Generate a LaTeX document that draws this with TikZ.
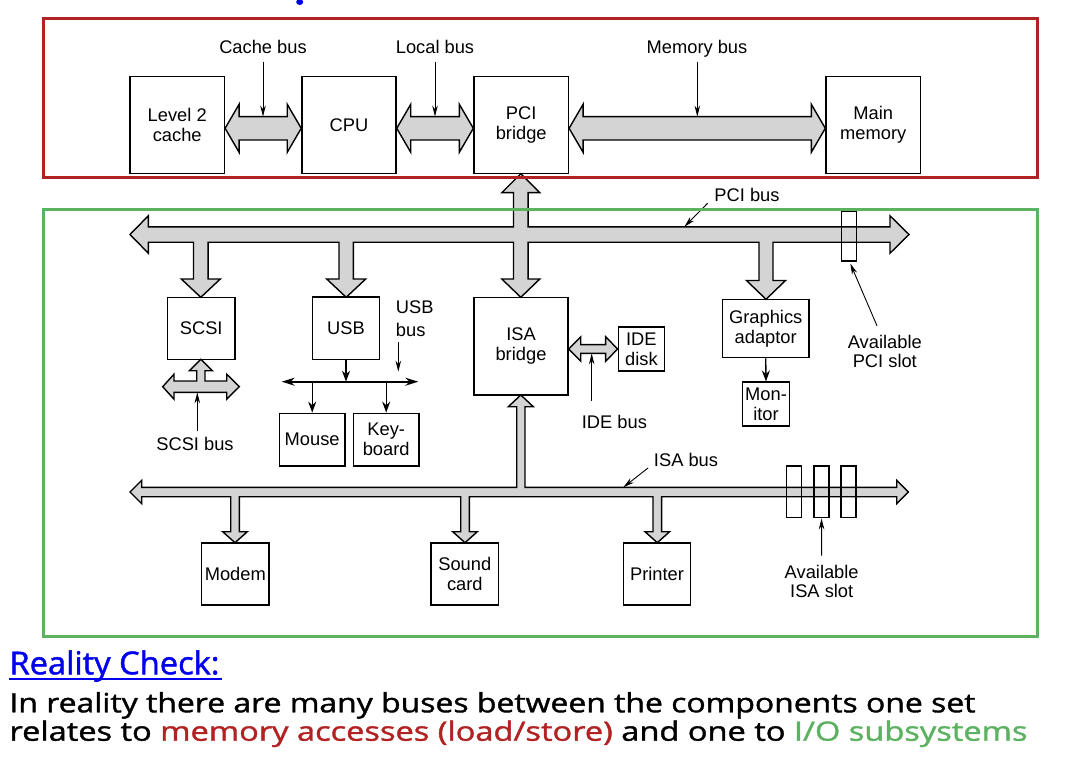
\documentclass[tikz,border=0pt]{standalone}
\usepackage{fontspec}
\setmainfont{Liberation Sans}
\newfontfamily\notefont[FakeBold=1.3]{Open Sans}
\usetikzlibrary{arrows.meta,calc}

\definecolor{framered}{RGB}{178,34,34}
\definecolor{framegreen}{RGB}{92,178,96}
\definecolor{busgray}{RGB}{212,212,212}
\definecolor{noteblue}{RGB}{0,0,240}

\newcommand\diagfont{\fontsize{18.3}{20}\selectfont}

% horizontal double-headed bus between two boxes:
% #1 left box, #2 right box, #3 centre y, #4 shaft half width, #5 head half width, #6 head length
\newcommand\hbus[6]{%
  \filldraw[bus] let \p1=(#1.east), \p2=(#2.west) in
    (\x1,-#3pt) -- ({\x1+#6pt},{-#3pt+#5pt}) -- ({\x1+#6pt},{-#3pt+#4pt})
    -- ({\x2-#6pt},{-#3pt+#4pt}) -- ({\x2-#6pt},{-#3pt+#5pt}) -- (\x2,-#3pt)
    -- ({\x2-#6pt},{-#3pt-#5pt}) -- ({\x2-#6pt},{-#3pt-#4pt})
    -- ({\x1+#6pt},{-#3pt-#4pt}) -- ({\x1+#6pt},{-#3pt-#5pt}) -- cycle;}

\begin{document}
\begin{tikzpicture}[x=1pt,y=-1pt,
  unit/.style={draw, line width=1.5pt, inner sep=0pt, align=center, font=\diagfont},
  lbl/.style={inner sep=0pt, align=center, font=\diagfont},
  bus/.style={fill=busgray, draw=black, line width=1.4pt, line join=miter},
  slot/.style={draw, line width=1.4pt, minimum width=15pt, inner sep=0pt},
  ptr/.style={line width=0.9pt, -{Stealth[length=11pt,width=5.5pt]}},
  uarr/.style={line width=1.4pt, -{Stealth[length=11pt,width=8pt]}},
  uline/.style={line width=1.6pt, {Stealth[length=13pt,width=8pt]}-{Stealth[length=13pt,width=8pt]}},
  frame/.style={line width=3pt}]

\useasboundingbox (0,0) rectangle (1070,770);

% remnant of the heading above the frame
\fill[noteblue] (299.7,2) ellipse [x radius=3.5, y radius=3];

% ---------------- boxes ----------------
\node[unit, minimum width=94.3pt, minimum height=97pt] (l2)   at (177.2,125.2) {Level 2\\cache};
\node[unit, minimum width=94pt,   minimum height=97pt] (cpu)  at (349,125.2)   {CPU};
\node[unit, minimum width=94.3pt, minimum height=97pt] (pcib) at (521.2,125.2) {PCI\\bridge};
\node[unit, minimum width=94.3pt, minimum height=97pt] (mem)  at (873.2,125.2) {Main\\memory};

\node[unit, minimum width=67.7pt, minimum height=62pt]   (scsi)  at (201.2,328.3) {SCSI};
\node[unit, minimum width=66.6pt, minimum height=62.3pt] (usb)   at (346,328.2)   {USB};
\node[unit, minimum width=94pt,   minimum height=97.7pt] (isab)  at (521,346.2)   {ISA\\bridge};
\node[unit, minimum width=46pt,   minimum height=44pt]   (ide)   at (641.4,349)   {IDE\\disk};
\node[unit, minimum width=86.2pt, minimum height=58.2pt] (gfx)   at (765.7,328.4) {Graphics\\adaptor};
\node[unit, minimum width=47pt,   minimum height=44pt]   (mon)   at (766,404.2)   {Mon-\\itor};
\node[unit, minimum width=65.7pt, minimum height=52.7pt] (mouse) at (312.2,439.7) {Mouse};
\node[unit, minimum width=65.7pt, minimum height=52.7pt] (kbd)   at (386.2,439.7) {Key-\\board};
\node[unit, minimum width=67.3pt, minimum height=62.3pt] (modem) at (235.3,573.9) {Modem};
\node[unit, minimum width=67.7pt, minimum height=62.3pt] (sound) at (464.8,573.9) {Sound\\card};
\node[unit, minimum width=67.4pt, minimum height=62.3pt] (printer) at (657,573.9) {Printer};

% ---------------- processor side buses ----------------
\hbus{l2}{cpu}{128.3}{11.7}{24}{14}
\hbus{cpu}{pcib}{128.3}{11.7}{24}{14}
\hbus{pcib}{mem}{128.3}{11.7}{24}{14}
\hbus{isab}{ide}{349}{4.4}{12.2}{12}

% ---------------- PCI bus with its branches ----------------
\filldraw[bus] (130,234.5) -- (148.3,215.8) -- (148.3,226.8) -- (513.5,226.8)
  -- (513.5,192.7) -- (501.8,192.7) -- (520.8,173.7) -- (539.8,192.7) -- (528.1,192.7)
  -- (528.1,226.8) -- (890,226.8) -- (890,215.8) -- (909,234.5) -- (890,253.2) -- (890,242.2)
  -- (773,242.2) -- (773,280.5) -- (785.5,280.5) -- (766,299.3) -- (746.5,280.5) -- (759,280.5)
  -- (759,242.2) -- (528.1,242.2) -- (528.1,279) -- (539.8,279) -- (520.8,297.3)
  -- (501.8,279) -- (513.5,279) -- (513.5,242.2) -- (353.4,242.2) -- (353.4,279)
  -- (365.7,279) -- (346.2,297.3) -- (326.7,279) -- (339,279) -- (339,242.2)
  -- (208.1,242.2) -- (208.1,279) -- (220.3,279) -- (200.8,297.3) -- (181.3,279)
  -- (193.5,279) -- (193.5,242.2) -- (148.3,242.2) -- (148.3,253.2) -- cycle;

% ---------------- ISA bus with its branches ----------------
\filldraw[bus] (130,492) -- (141.7,480.3) -- (141.7,487.3) -- (516.7,487.3)
  -- (516.7,406.7) -- (508.3,406.7) -- (520.8,395) -- (533.3,406.7) -- (525,406.7)
  -- (525,487.3) -- (896.7,487.3) -- (896.7,480.3) -- (908.3,492) -- (896.7,503.7)
  -- (896.7,496.7) -- (661.6,496.7) -- (661.6,531.7) -- (669.6,531.7) -- (657.3,542.7)
  -- (645,531.7) -- (653,531.7) -- (653,496.7) -- (469.3,496.7) -- (469.3,531.7)
  -- (477.3,531.7) -- (465,542.7) -- (452.7,531.7) -- (460.7,531.7) -- (460.7,496.7)
  -- (239.3,496.7) -- (239.3,531.7) -- (247.3,531.7) -- (235,542.7) -- (222.7,531.7)
  -- (230.7,531.7) -- (230.7,496.7) -- (141.7,496.7) -- (141.7,503.7) -- cycle;

% ---------------- SCSI bus ----------------
\filldraw[bus] (162.7,386.7) -- (174,374.2) -- (174,381) -- (196.7,381) -- (196.7,370.7)
  -- (189.3,370.7) -- (200.8,359.3) -- (212.3,370.7) -- (205,370.7) -- (205,381)
  -- (226.7,381) -- (226.7,374.2) -- (239.3,386.7) -- (226.7,399.2) -- (226.7,392.3)
  -- (174,392.3) -- (174,399.2) -- cycle;

% ---------------- expansion slots ----------------
\node[slot, minimum height=49.3pt] (pcislot) at (848.8,236.3) {};
\node[slot, minimum height=51.7pt] (isaslotA) at (794.2,491.9) {};
\node[slot, minimum height=51.7pt] (isaslotB) at (821.5,491.9) {};
\node[slot, minimum height=51.7pt] (isaslotC) at (848.5,491.9) {};

% ---------------- USB bus ----------------
\coordinate (ubL) at (281.7,381.7);
\coordinate (ubR) at (418.3,381.7);
\draw[uline] (ubL) -- (ubR);
\draw[uarr] (usb.south) -- (usb.south |- ubL);
\draw[uarr] (mouse.north |- ubL) -- (mouse.north);
\draw[uarr] (kbd.north |- ubL) -- (kbd.north);
\draw[uarr] (gfx.south) -- (mon.north);

% ---------------- bus labels ----------------
\node[lbl, anchor=base] (cachelbl) at (263,53.3)  {Cache bus};
\node[lbl, anchor=base] (locallbl) at (435,53.3)  {Local bus};
\node[lbl, anchor=base] (memlbl)   at (697,53.3)  {Memory bus};
\node[lbl, anchor=base] (pcilbl)   at (747,201.7) {PCI bus};
\node[lbl, anchor=base] (scsilbl)  at (195,450.7) {SCSI bus};
\node[lbl, anchor=base] (idelbl)   at (614.4,428.5) {IDE bus};
\node[lbl, anchor=base] (isalbl)   at (686,466.7) {ISA bus};
\node[lbl, anchor=west, align=left, font=\fontsize{18.3}{23.4}\selectfont] (usblbl) at (395.7,318.5) {USB\\bus};
\node[lbl, font=\fontsize{18.3}{19.6}\selectfont] (pcislotlbl) at (884.8,351.3) {Available\\PCI slot};
\node[lbl, font=\fontsize{18.3}{19.4}\selectfont] (isaslotlbl) at (821.7,581.5) {Available\\ISA slot};

\coordinate (cachept) at (263,116.6);
\coordinate (localpt) at (435,116.6);
\coordinate (mempt)   at (697.3,116.6);
\coordinate (pcipt)   at (684.3,226.8);
\coordinate (usbpt)   at (398.3,371.7);
\coordinate (scsipt)  at (197.3,392.3);
\coordinate (idept)   at (591.7,353.4);
\coordinate (isapt)   at (623.3,487.3);
\coordinate (pcislotpt) at (850.3,263.5);

\draw[ptr, shorten <=8.4pt] (cachelbl.base) -- (cachept);
\draw[ptr, shorten <=8.4pt] (locallbl.base) -- (localpt);
\draw[ptr, shorten <=8.4pt] ([xshift=0.3pt]memlbl.base) -- (mempt);
\draw[ptr] ([shift={(-6.7,1.6)}]pcilbl.base west) -- (pcipt);
\draw[ptr] ([shift={(-5.7,1.3)}]isalbl.base west) -- (isapt);
\draw[ptr, shorten <=5pt] ([xshift=2.6pt]usblbl.south west) -- (usbpt);
\draw[ptr, shorten <=5.9pt] ([xshift=2.3pt]scsilbl.north) -- (scsipt);
\draw[ptr, shorten <=14pt] ([xshift=-22.7pt]idelbl.north) -- (idept);
\draw[ptr] ([shift={(-7.8,-8.7)}]pcislotlbl.north) -- (pcislotpt);
\draw[ptr, shorten <=9.2pt] (isaslotlbl.north) -- (isaslotB.south);

% ---------------- frames ----------------
\draw[frame, framered]   (43.3,18.3)  rectangle (1037.3,177.3);
\draw[frame, framegreen] (43.3,209.3) rectangle (1037.3,636.7);

% ---------------- note below ----------------
\node[anchor=base west, inner sep=0pt, text=noteblue] (rc) at (9.3,674.3)
  {\resizebox{210pt}{\height}{\notefont\fontsize{31.6}{36}\selectfont Reality Check:}};
\draw[noteblue, line width=2.2pt] ([yshift=-5pt]rc.base west) -- ([yshift=-5pt,xshift=2pt]rc.base east);
\node[anchor=base west, inner sep=0pt] (noteA) at (9.3,712.3)
  {\resizebox{966pt}{\height}{\notefont\fontsize{26.6}{30}\selectfont In reality there are many buses between the components one set}};
\node[anchor=base west, inner sep=0pt] (noteB) at (9.3,740.7)
  {\resizebox{1018pt}{\height}{\notefont\fontsize{26.6}{30}\selectfont relates to \textcolor{framered}{memory accesses (load/store)} and one to \textcolor{framegreen}{I/O subsystems}}};

\end{tikzpicture}
\end{document}
